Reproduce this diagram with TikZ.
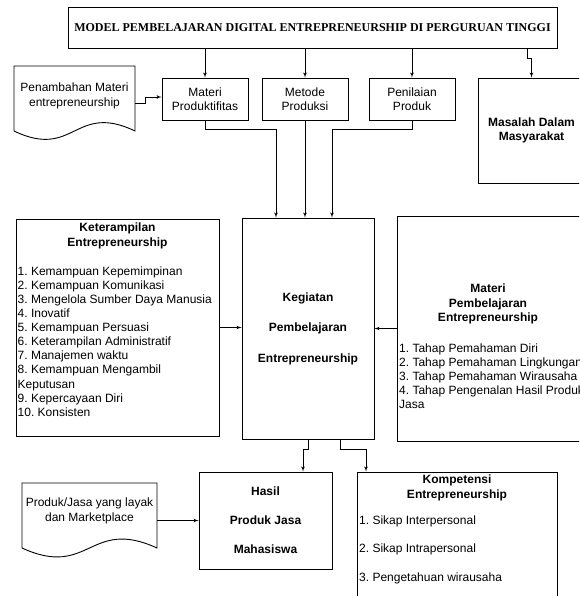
\documentclass[tikz,border=0pt]{standalone}
\usepackage{fontspec}
\setmainfont{Liberation Sans}
\newfontfamily\titlefont{Liberation Serif}
\usepackage{tikz}
\usetikzlibrary{arrows, calc}
\frenchspacing
\tikzstyle{block} = [draw, rectangle, line width=0.9pt, inner sep=0pt]
\tikzstyle{boldtext} = [font=\fontsize{12}{14.5}\selectfont\bfseries]
\tikzstyle{listtext} = [inner sep=0pt, align=left, font=\fontsize{12}{14.1}\selectfont]
\tikzstyle{doc} = [inner sep=0pt, align=center]
\tikzstyle{conn} = [draw, line width=0.7pt, ->]

\begin{document}
\begin{tikzpicture}[x=1pt, y=-1pt, >=latex', font=\fontsize{12}{14.5}\selectfont]
    \useasboundingbox (0,0) rectangle (579,596);
    \clip (0,0) rectangle (579,596);

    % judul
    \node [block, minimum width=489, minimum height=41, font=\titlefont\bfseries\fontsize{12}{14}\selectfont] (title) at (312.5,27.5) {MODEL PEMBELAJARAN DIGITAL ENTREPRENEURSHIP DI PERGURUAN TINGGI};

    % baris atas
    \node [doc, minimum width=121] (tambah) at (74.5,96) {Penambahan Materi\\entrepreneurship};
    \draw [line width=0.9pt] (14,131) -- (14,66) -- (135,66) -- (135,131) .. controls (74.5,102) and (74.5,160) .. (14,131) -- cycle;
    \node [block, minimum width=86, minimum height=42, align=center] (matprod) at (205,99) {Materi\\Produktifitas};
    \node [block, minimum width=86, minimum height=42, align=center] (metode) at (305,99) {Metode\\Produksi};
    \node [block, minimum width=86, minimum height=42, align=center] (nilai) at (412,99) {Penilaian\\Produk};
    \node [block, boldtext, minimum width=107, minimum height=105, align=center] (masalah) at (531.5,130.5) {Masalah Dalam\\Masyarakat};

    % baris tengah
    \node [block, minimum width=203, minimum height=217] (skill) at (117.5,327.5) {};
    \node [boldtext, align=center, inner sep=0pt] (skilltitle) at (117.5,236) {Keterampilan\\Entrepreneurship};
    \node [listtext, anchor=west] (skilllist) at (17.5,341.5) {1. Kemampuan Kepemimpinan\\2. Kemampuan Komunikasi\\3. Mengelola Sumber Daya Manusia\\4. Inovatif\\5. Kemampuan Persuasi\\6. Keterampilan Administratif\\7. Manajemen waktu\\8. Kemampuan Mengambil\\Keputusan\\9. Kepercayaan Diri\\10. Konsisten};

    \node [block, boldtext, minimum width=132, minimum height=221, align=center] (kegiatan) at (308,328.5) {Kegiatan\\[16pt]Pembelajaran\\[16pt]Entrepreneurship};

    \node [block, minimum width=188, minimum height=225] (matpemb) at (491,328.5) {};
    \node [boldtext, align=center, inner sep=0pt] (matpembtitle) at (488,304) {Materi\\Pembelajaran\\Entrepreneurship};
    \node [listtext, anchor=west] (matpemblist) at (399,376) {1. Tahap Pemahaman Diri\\2. Tahap Pemahaman Lingkungan\\3. Tahap Pemahaman Wirausaha\\4. Tahap Pengenalan Hasil Produk\\Jasa};

    % baris bawah
    \node [doc, minimum width=135] (produk) at (89.5,511) {Produk/Jasa yang layak\\dan Marketplace};
    \draw [line width=0.9pt] (22,548) -- (22,483) -- (157,483) -- (157,548) .. controls (89.5,517) and (89.5,579) .. (22,548) -- cycle;
    \node [block, boldtext, minimum width=133, minimum height=97, align=center] (hasil) at (265.5,520.5) {Hasil\\[14.5pt]Produk Jasa\\[14.5pt]Mahasiswa};

    \node [block, minimum width=200, minimum height=140] (kompetensi) at (457,542) {};
    \node [boldtext, align=center, inner sep=0pt] (kompetensititle) at (457,488) {Kompetensi\\Entrepreneurship};
    \node [listtext, anchor=west] (kompetensilist) at (359,549.5) {1. Sikap Interpersonal\\[14.5pt]2. Sikap Intrapersonal\\[14.5pt]3. Pengetahuan wirausaha};

    % panah
    \draw [conn] (title.south -| matprod.north) -- (matprod.north);
    \draw [conn] (title.south -| metode.north) -- (metode.north);
    \draw [conn] (title.south -| nilai.north) -- (nilai.north);
    \draw [conn] ($(title.south -| masalah.north)+(-4,0)$) -- ++(0,10) -| (masalah.north);
    \draw [conn] ($(tambah.east)+(0,7)$) -- ++(10,0) |- ($(matprod.west)+(0,-2)$);
    \draw [conn] (matprod.south) -- ++(0,9) -| ($(kegiatan.north)+(-32,0)$);
    \draw [conn] (metode.south) -- (metode.south |- kegiatan.north);
    \draw [conn] (nilai.south) -- ++(0,9) -| ($(kegiatan.north)+(24,0)$);
    \draw [conn] (skill.east) -- (skill.east -| kegiatan.west);
    \draw [conn] (matpemb.west) -- (matpemb.west -| kegiatan.east);
    \draw [conn] (kegiatan.south) -- ++(0,10) -| ($(hasil.north)+(37.5,0)$);
    \draw [conn] ($(kegiatan.south)+(32,0)$) -- ++(0,10) -| ($(kompetensi.north)+(-91,0)$);
    \draw [conn] (produk.east |- hasil.west) -- (hasil.west);
\end{tikzpicture}
\end{document}
